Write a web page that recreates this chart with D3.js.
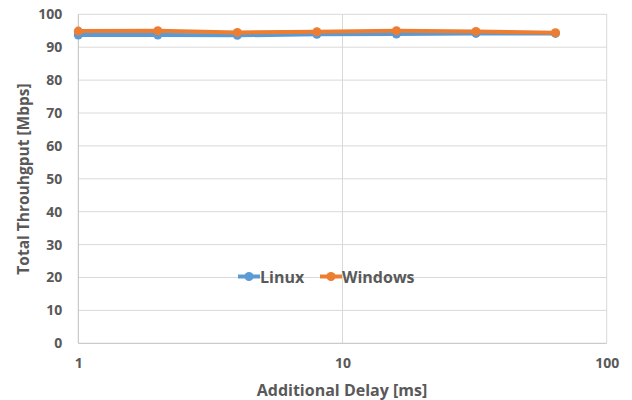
<!DOCTYPE html>
<html>
<head>
<meta charset="utf-8">
<script src="https://cdn.jsdelivr.net/npm/d3@7"></script>
<style>
html,body{margin:0;padding:0;background:#fff;}
svg{display:block;}
text{font-family:"Open Sans","Liberation Sans",sans-serif;font-weight:bold;fill:#595959;}
</style>
</head>
<body>
<svg id="chart" width="632" height="400"></svg>
<script>
const delays = [1, 2, 4, 8, 16, 32, 64];
const linux = [93.7, 93.7, 93.6, 93.9, 94.0, 94.2, 94.2];
const windows = [94.9, 95.0, 94.5, 94.7, 95.0, 94.8, 94.4];
const seriesNames = ["Linux", "Windows"];
const xTicks = [1, 10, 100];
const yTicks = [0, 10, 20, 30, 40, 50, 60, 70, 80, 90, 100];

const colors = {Linux: "#5B9BD5", Windows: "#ED7D31"};
const svg = d3.select("#chart");
const m = {left: 78.3, right: 632 - 606.7, top: 14.3, bottom: 400 - 343.3};
const W = 632, H = 400;

const x = d3.scaleLog().domain([1, 100]).range([m.left, W - m.right]);
const y = d3.scaleLinear().domain([0, 100]).range([H - m.bottom, m.top]);

// gridlines
const g = svg.append("g");
g.selectAll(".hg").data(yTicks.filter(d => d > 0)).enter().append("line")
  .attr("x1", x(1)).attr("x2", x(100))
  .attr("y1", d => y(d)).attr("y2", d => y(d))
  .attr("stroke", "#d9d9d9").attr("stroke-width", 1);
g.selectAll(".vg").data(xTicks.filter(d => d > 1)).enter().append("line")
  .attr("x1", d => x(d)).attr("x2", d => x(d))
  .attr("y1", y(0)).attr("y2", y(100))
  .attr("stroke", "#d9d9d9").attr("stroke-width", 1);

// axes lines
svg.append("line").attr("x1", x(1)).attr("x2", x(100)).attr("y1", y(0)).attr("y2", y(0))
  .attr("stroke", "#bfbfbf").attr("stroke-width", 1);
svg.append("line").attr("x1", x(1)).attr("x2", x(1)).attr("y1", y(0)).attr("y2", y(100))
  .attr("stroke", "#bfbfbf").attr("stroke-width", 1);

// axes via d3
const yAxis = d3.axisLeft(y).tickValues(yTicks).tickSize(0).tickPadding(16);
const ya = svg.append("g").attr("transform", `translate(${x(1)},0)`).call(yAxis);
ya.select(".domain").remove();
ya.selectAll("text").style("font-size", "14px").attr("fill", "#595959").attr("font-family", null);

const xAxis = d3.axisBottom(x).tickValues(xTicks).tickFormat(d3.format("d")).tickSize(0).tickPadding(15);
const xa = svg.append("g").attr("transform", `translate(0,${y(0)})`).call(xAxis);
xa.select(".domain").remove();
xa.selectAll("text").style("font-size", "14px").attr("fill", "#595959").attr("font-family", null);

// axis titles
svg.append("text").attr("x", 342).attr("y", 390).attr("text-anchor", "middle")
  .attr("dominant-baseline", "central").style("font-size", "16px").text("Additional Delay [ms]");
svg.append("text").attr("transform", "translate(23,179) rotate(-90)").attr("text-anchor", "middle")
  .attr("dominant-baseline", "central").style("font-size", "15.5px").text("Total Throuhgput [Mbps]");

// series
const data = {Linux: linux, Windows: windows};
const line = d3.line().x((d, i) => x(delays[i])).y(d => y(d));
seriesNames.forEach(name => {
  const s = svg.append("g");
  s.append("path").datum(data[name]).attr("d", line).attr("fill", "none")
    .attr("stroke", colors[name]).attr("stroke-width", 4).attr("stroke-linejoin", "round");
  s.selectAll("circle").data(data[name]).enter().append("circle")
    .attr("cx", (d, i) => x(delays[i])).attr("cy", d => y(d)).attr("r", 4.5)
    .attr("fill", colors[name]);
});

// legend
const leg = [{name: "Linux", x0: 238, x1: 260}, {name: "Windows", x0: 320, x1: 342}];
const ly = 276.5;
leg.forEach(l => {
  svg.append("line").attr("x1", l.x0).attr("x2", l.x1).attr("y1", ly).attr("y2", ly)
    .attr("stroke", colors[l.name]).attr("stroke-width", 4);
  svg.append("circle").attr("cx", (l.x0 + l.x1) / 2).attr("cy", ly).attr("r", 4.5).attr("fill", colors[l.name]);
  svg.append("text").attr("x", l.x1).attr("y", ly).attr("dominant-baseline", "central")
    .style("font-size", "16px").text(l.name);
});
</script>
</body>
</html>
